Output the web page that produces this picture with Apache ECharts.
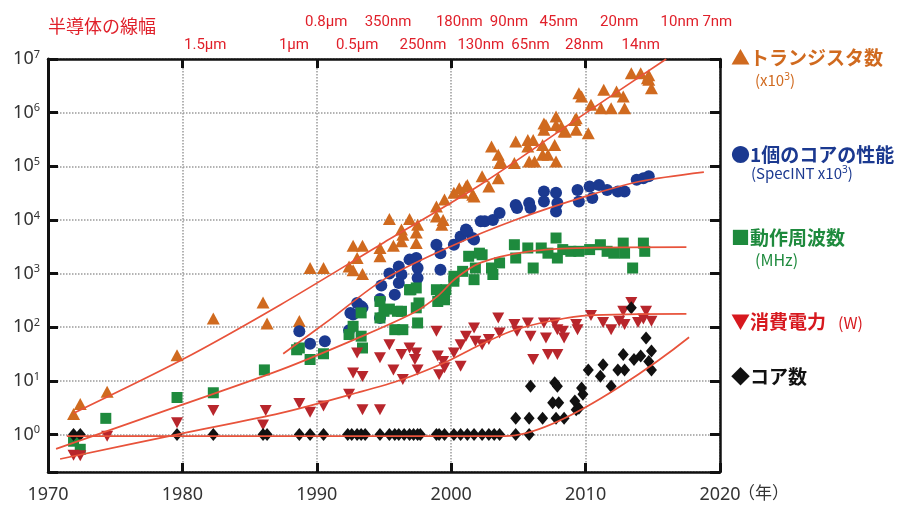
<!DOCTYPE html>
<html>
<head>
<meta charset="utf-8">
<script src="https://cdn.jsdelivr.net/npm/echarts@6/dist/echarts.min.js"></script>
<style>html,body{margin:0;background:#fff}#main{width:898px;height:505px}</style>
</head>
<body>
<div id="main"></div>
<script>
// データ (年, 値)
var transistors = [
  [1971.9, 2.4], [1972.4, 3.7], [1974.4, 6.3], [1979.6, 30], [1982.3, 145], [1986.0, 290], [1986.3, 117], [1988.7, 130],
  [1989.5, 1270], [1990.5, 1270], [1992.4, 1360], [1992.7, 1150], [1992.7, 3300], [1993.0, 1950], [1993.4, 3300], [1993.4, 980],
  [1994.7, 3000], [1994.7, 2100], [1995.4, 10400], [1995.7, 3300], [1996.3, 6600], [1996.4, 5300], [1996.3, 4000], [1996.9, 10400],
  [1997.4, 3700], [1997.4, 5800], [1997.5, 8100], [1998.9, 17800], [1999.5, 24000], [1998.9, 11600], [1999.4, 10000], [1999.3, 8100],
  [2000.2, 32000], [2000.6, 39000], [2001.2, 45000], [2000.85, 32000], [2001.6, 29500], [2001.7, 27400], [2001.1, 42000],
  [2002.3, 65000], [2002.8, 42000], [2003.5, 60000], [2003.0, 234000], [2003.5, 164000], [2003.6, 115000], [2003.7, 123000],
  [2004.7, 115000], [2004.8, 290000], [2005.7, 310000], [2006.1, 310000], [2005.7, 234000], [2005.8, 123000], [2006.2, 123000],
  [2006.8, 250000], [2006.8, 164000], [2006.9, 630000], [2007.05, 590000], [2006.9, 480000], [2007.2, 164000], [2007.7, 250000],
  [2007.8, 850000], [2007.8, 590000], [2007.8, 123000], [2008.2, 550000], [2008.4, 445000], [2008.5, 445000],
  [2009.3, 790000], [2009.3, 480000], [2009.2, 730000], [2009.5, 2310000], [2009.7, 2000000], [2010.2, 415000],
  [2010.4, 1400000], [2011.15, 1210000], [2011.35, 2660000], [2011.9, 1210000], [2012.3, 2470000], [2012.8, 2000000], [2012.9, 1210000],
  [2013.4, 5400000], [2014.1, 5400000], [2014.6, 4400000], [2014.7, 5000000], [2014.7, 4100000], [2014.9, 2860000]
];
var corePerf = [
  [1988.7, 84], [1989.5, 49], [1990.6, 55], [1992.4, 88], [1992.7, 172], [1993.0, 283], [1993.4, 230], [1992.5, 185], [1993.3, 245],
  [1994.7, 335], [1994.7, 149], [1995.8, 405], [1994.8, 600], [1996.1, 670], [1995.4, 1000], [1996.1, 1360], [1996.3, 960],
  [1996.9, 1820], [1997.4, 1950], [1997.5, 1270], [1997.5, 830], [1998.9, 3450], [1999.2, 2400], [1999.2, 1180],
  [2000.2, 3450], [2000.7, 4900], [2001.2, 6100], [2001.6, 4600], [2002.2, 9400], [2001.1, 6600], [2001.7, 4300],
  [2002.5, 9400], [2003.1, 10000], [2003.6, 13500], [2004.8, 19000], [2004.9, 16700], [2005.8, 20600], [2005.9, 16700],
  [2006.9, 34000], [2006.9, 22000], [2007.8, 32000], [2007.9, 20600], [2007.8, 14400], [2009.4, 36000], [2009.5, 22000],
  [2010.3, 42000], [2010.5, 25700], [2011.0, 45000], [2011.6, 36000], [2012.4, 34000], [2012.9, 34000],
  [2013.8, 56000], [2014.3, 60000], [2014.7, 65000]
];
var clockMHz = [
  [1971.9, 0.75], [1972.4, 0.53], [1974.3, 2.0], [1979.6, 4.9], [1982.3, 6.0], [1986.1, 16], [1988.5, 38], [1988.7, 41],
  [1989.5, 25], [1990.5, 32], [1992.4, 73], [1992.7, 104], [1993.3, 68], [1993.4, 41], [1993.3, 185], [1994.7, 149],
  [1995.4, 218], [1995.8, 90], [1996.4, 90], [1996.3, 198], [1997.0, 500], [1997.4, 230], [1997.6, 283], [1997.5, 120],
  [1994.7, 302], [1995.0, 198], [1996.0, 198], [1996.9, 500], [1997.4, 540], [1999.0, 302], [1999.2, 436], [1999.6, 500],
  [1998.9, 500], [1999.2, 380], [1999.5, 325], [2000.2, 890], [2000.2, 720], [2000.85, 1100], [2001.3, 2100], [2001.7, 770],
  [2002.1, 2400], [2001.8, 1270], [2002.3, 2240], [2003.0, 1270], [2003.6, 1580], [2003.1, 960], [2004.7, 3450], [2004.8, 1950],
  [2005.7, 3000], [2006.1, 1270], [2006.7, 3000], [2007.2, 2400], [2007.8, 4600], [2007.9, 1950], [2008.3, 2800], [2008.9, 2600],
  [2009.5, 2600], [2010.3, 2800], [2011.1, 3450], [2011.6, 2600], [2012.1, 2400], [2012.8, 3700], [2012.9, 2400], [2013.5, 1270],
  [2014.3, 3700], [2014.4, 2600]
];
var powerW = [
  [1971.9, 0.41], [1972.4, 0.40], [1974.4, 0.93], [1979.6, 1.65], [1982.3, 2.8], [1986.2, 2.8], [1986.0, 1.5], [1988.7, 3.8],
  [1989.5, 2.6], [1990.5, 3.4], [1992.4, 5.6], [1992.7, 14], [1993.4, 12], [1993.0, 33], [1993.4, 2.9], [1994.7, 2.9],
  [1994.7, 27], [1995.4, 47], [1995.7, 16], [1996.3, 31], [1996.4, 10.6], [1996.9, 41], [1997.4, 33], [1997.3, 25], [1997.5, 16],
  [1998.9, 84], [1999.0, 29], [1999.1, 13], [1999.5, 17.5], [1999.4, 23], [2000.2, 33], [2000.7, 18.7], [2000.7, 47],
  [2001.1, 68], [2001.7, 97], [2001.8, 55], [2002.3, 47], [2002.8, 59], [2003.5, 149], [2003.6, 78], [2004.7, 112], [2004.9, 84],
  [2005.7, 120], [2005.9, 68], [2006.1, 25], [2006.9, 120], [2007.05, 63], [2007.2, 31], [2007.7, 120], [2007.9, 90],
  [2008.3, 84], [2008.4, 63], [2007.9, 31], [2009.3, 112], [2009.4, 90], [2010.4, 165], [2011.3, 123], [2011.9, 90],
  [2012.5, 129], [2012.8, 198], [2012.9, 112], [2013.4, 290], [2013.9, 123], [2014.5, 198], [2014.9, 129], [2014.3, 142]
];
var cores = [
  [1971.9, 1], [1972.4, 1], [1979.6, 1], [1982.3, 1], [1986.0, 1], [1986.3, 1], [1988.7, 1], [1989.5, 1], [1990.5, 1],
  [1992.3, 1], [1992.6, 1], [1993.0, 1], [1993.3, 1], [1993.6, 1], [1994.7, 1], [1995.4, 1], [1995.8, 1], [1996.1, 1],
  [1996.5, 1], [1996.9, 1], [1997.2, 1], [1997.5, 1], [1997.7, 1], [1998.9, 1], [1999.1, 1], [1999.5, 1], [2000.2, 1],
  [2000.7, 1], [2001.2, 1], [2001.7, 1], [2002.3, 1], [2002.8, 1], [2003.2, 1], [2003.6, 1], [2004.8, 1], [2005.8, 1],
  [2004.8, 2], [2005.8, 2], [2006.8, 2], [2007.8, 2], [2008.4, 2], [2005.9, 7.9], [2007.7, 9.2], [2007.9, 7.9],
  [2007.55, 3.9], [2008.0, 3.9], [2009.2, 4.2], [2009.3, 2.9], [2009.5, 3.1], [2009.7, 7.4], [2009.8, 5.6], [2010.2, 16],
  [2011.3, 20], [2011.1, 12.2], [2011.9, 7.9], [2012.4, 16], [2012.8, 31], [2012.9, 16], [2013.6, 25], [2014.1, 29],
  [2014.5, 63], [2014.9, 36], [2014.7, 23], [2014.9, 16], [2013.4, 230]
];

// 傾向線
var trendTransistors = [[1971.9, 2.5], [1980, 25], [1987.3, 263], [1995, 3800], [2002.2, 45700], [2010, 980000], [2016, 1e7]];
var trendPerf = [[1987.5, 32], [1991, 140], [1995, 780], [2000, 3240], [2005, 10500], [2010, 27500], [2014, 52000], [2018.8, 78000]];
var trendClock = [[1970.6, 0.54], [1980, 3.6], [1987.3, 16], [1993, 62], [1997.2, 186], [1999, 380], [2000.3, 800],
  [2002.2, 1600], [2005.7, 2570], [2010, 3020], [2017.5, 3100]];
var trendPower = [[1970.9, 0.35], [1980, 1.05], [1987.3, 2.5], [1993, 6], [1996.3, 10.5], [1999.7, 23], [2002, 45], [2004.5, 85],
  [2007, 125], [2010, 165], [2017.5, 178]];
var trendCores = [[1971.4, 0.93], [2004, 0.93], [2017.7, 65]];

// 半導体の線幅
var nodeNames = ['1.5μm', '1μm', '0.8μm', '0.5μm', '350nm', '250nm', '180nm', '130nm', '90nm', '65nm', '45nm', '28nm', '20nm', '14nm', '10nm', '7nm'];
var nodeYears = [1981.7, 1988.3, 1990.7, 1993.0, 1995.3, 1997.9, 2000.6, 2002.2, 2004.3, 2005.9, 2008.0, 2009.9, 2012.5, 2014.1, 2017.0, 2019.8];
var nodeRow = [2, 2, 1, 2, 1, 2, 1, 2, 1, 2, 1, 2, 1, 2, 1, 1];

var cTri = '#d06a1f', cCir = '#1b3990', cSq = '#1e8a3d', cDown = '#b8262c', cDia = '#111111';
var cLine = '#e8533b', cRed = '#e0202a';
var font = "'Noto Sans', 'Noto Sans CJK JP', sans-serif";

var myChart = echarts.init(document.getElementById('main'));

function isPow10(v) {
  var l = Math.log10(v);
  return Math.abs(l - Math.round(l)) < 1e-6;
}

function scatter(name, data, symbol, size, color, rotate) {
  return {
    name: name, type: 'scatter', data: data, symbol: symbol, symbolSize: size,
    symbolRotate: rotate || 0, itemStyle: {color: color, opacity: 1}, z: 2, silent: true
  };
}
function trend(data) {
  return {
    type: 'line', data: data, showSymbol: false, smooth: 0.3,
    lineStyle: {color: cLine, width: 1.7}, z: 5, silent: true
  };
}

var option = {
  animation: false,
  textStyle: {fontFamily: font},
  grid: {left: 48, right: 178, top: 59, bottom: 33},
  xAxis: [{
    type: 'value', min: 1970, max: 2020, interval: 10,
    axisLine: {lineStyle: {color: '#111', width: 2.5}},
    axisTick: {inside: true, length: 9, lineStyle: {color: '#111', width: 3}},
    axisLabel: {color: '#333', fontSize: 18, margin: 14, fontFamily: font, formatter: function (v) { return String(v); }},
    splitLine: {lineStyle: {color: '#9a9a9a', type: 'dotted', width: 1.5}}
  }, {
    type: 'value', min: 1970, max: 2020, interval: 10, position: 'top',
    axisLine: {lineStyle: {color: '#111', width: 2.5}},
    axisTick: {inside: true, length: 9, lineStyle: {color: '#111', width: 3}},
    axisLabel: {show: false}, splitLine: {show: false}
  }],
  yAxis: [{
    type: 'log', min: 0.2, max: 1e7, logBase: 10,
    axisLine: {lineStyle: {color: '#111', width: 3}},
    axisTick: {inside: true, length: 10, lineStyle: {color: '#111', width: 3}},
    axisLabel: {
      color: '#333', fontSize: 18, margin: 8, fontFamily: font, lineHeight: 20,
      formatter: function (v) {
        if (!isPow10(v)) return '';
        return '10{sup|' + Math.round(Math.log10(v)) + '}';
      },
      rich: {sup: {fontSize: 11, lineHeight: 11, verticalAlign: 'top', color: '#333', fontFamily: font}}
    },
    splitLine: {lineStyle: {color: '#9a9a9a', type: 'dotted', width: 1.5}}
  }, {
    type: 'log', min: 0.2, max: 1e7, logBase: 10, position: 'right',
    axisLine: {lineStyle: {color: '#111', width: 2.5}},
    axisTick: {inside: true, length: 10, lineStyle: {color: '#111', width: 3}},
    axisLabel: {show: false}, splitLine: {show: false}
  }],
  series: [
    scatter('トランジスタ数', transistors, 'triangle', [13, 12], cTri),
    scatter('1個のコアの性能', corePerf, 'circle', 12, cCir),
    scatter('動作周波数', clockMHz, 'rect', 11, cSq),
    scatter('消費電力', powerW, 'triangle', [12, 11], cDown, 180),
    scatter('コア数', cores, 'diamond', [11, 13], cDia),
    trend(trendTransistors), trend(trendPerf), trend(trendClock), trend(trendPower), trend(trendCores)
  ]
};
myChart.setOption(option);

// 上部の線幅ラベルと右側の凡例
var graphics = [];
graphics.push({type: 'text', x: 48, y: 26, style: {text: '半導体の線幅', fill: cRed, font: "18px 'Noto Sans CJK JP'", verticalAlign: 'middle'}});
for (var i = 0; i < nodeNames.length; i++) {
  var px = myChart.convertToPixel({xAxisIndex: 0}, nodeYears[i]);
  graphics.push({
    type: 'text', x: px, y: nodeRow[i] === 1 ? 22 : 45,
    style: {text: nodeNames[i], fill: cRed, font: "15px Roboto", align: 'center', verticalAlign: 'middle'}
  });
}
graphics.push({type: 'text', left: 738, top: 484, style: {text: '（年）', fill: '#333', font: "17px 'Noto Sans CJK JP'"}});

function legendText(x, y, text, color, size, weight) {
  return {
    type: 'text', x: x, y: y,
    style: {
      text: text, fill: color, font: (weight || 'normal') + ' ' + size + "px 'Noto Sans CJK JP'", verticalAlign: 'middle',
      rich: {s: {fontSize: 10, verticalAlign: 'top', lineHeight: 10, fill: color, fontFamily: 'Noto Sans'}}
    }
  };
}
graphics.push(legendText(731, 58, '▲トランジスタ数', cTri, 19, 'bold'));
graphics.push(legendText(755, 80, '(x10{s|3})', cTri, 15));
graphics.push(legendText(731, 155, '●1個のコアの性能', cCir, 19, 'bold'));
graphics.push(legendText(751, 173, '(SpecINT x10{s|3})', cCir, 15));
graphics.push(legendText(731, 238, '■動作周波数', cSq, 19, 'bold'));
graphics.push(legendText(755, 260, '(MHz)', cSq, 16));
graphics.push(legendText(731, 322, '▼消費電力', '#d7191f', 19, 'bold'));
graphics.push(legendText(838, 323, '(W)', '#d7191f', 16));
graphics.push(legendText(731, 377, '◆コア数', cDia, 19, 'bold'));

myChart.setOption({graphic: graphics});
</script>
</body>
</html>
